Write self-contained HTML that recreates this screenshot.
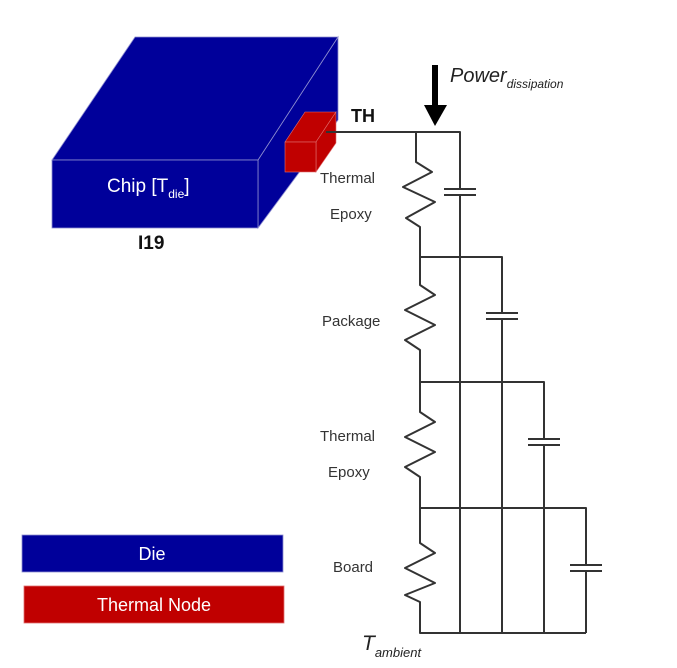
<!DOCTYPE html>
<html><head><meta charset="utf-8"><style>
html,body{margin:0;padding:0;background:#fff;width:677px;height:668px;overflow:hidden}
svg{display:block}
text{font-family:"Liberation Sans","DejaVu Sans",sans-serif}
</style></head><body>
<svg width="677" height="668" viewBox="0 0 677 668" xmlns="http://www.w3.org/2000/svg">
<!-- chip -->
<polygon points="258,160 338,37 338,120 258,228" fill="#00009a" stroke="#8f8fd0" stroke-width="0.8"/>
<polygon points="52,160 135,37 338,37 258,160" fill="#00009a" stroke="#8f8fd0" stroke-width="0.8"/>
<rect x="52" y="160" width="206" height="68" fill="#00009a" stroke="#8f8fd0" stroke-width="0.8"/>
<text x="107" y="192" font-size="19" fill="#fff">Chip [T<tspan font-size="12" dy="6">die</tspan><tspan dy="-6">]</tspan></text>
<text x="138" y="249" font-size="19" font-weight="bold" fill="#111">I19</text>
<!-- thermal node -->
<polygon points="285,142 305,112 336,112 316,142" fill="#c00000" stroke="#e07070" stroke-width="0.6"/>
<polygon points="316,142 336,112 336,143 316,172" fill="#c00000" stroke="#e07070" stroke-width="0.6"/>
<rect x="285" y="142" width="31" height="30" fill="#c00000" stroke="#e07070" stroke-width="0.6"/>
<text x="351" y="122" font-size="18" font-weight="bold" fill="#111">TH</text>
<!-- power arrow -->
<rect x="432" y="65" width="6" height="42" fill="#000"/>
<polygon points="424,105 447,105 435,126" fill="#000"/>
<text x="450" y="82" font-size="20" font-style="italic" fill="#222">Power<tspan font-size="12" dy="6">dissipation</tspan></text>
<!-- circuit -->
<g fill="none" stroke="#333" stroke-width="2" stroke-linejoin="round">
<polyline points="326,132 460,132 460,633"/>
<polyline points="416,132 416,162 432,172 403,187 435,202 406,218 420,227 420,285 435,295 405,310 435,325 405,340 420,350 420,412 435,422 405,437 435,452 405,467 420,477 420,543 435,553 405,568 435,583 405,595 420,602 420,633 586,633"/>
<polyline points="420,257 502,257 502,633"/>
<polyline points="420,382 544,382 544,633"/>
<polyline points="420,508 586,508 586,633"/>
</g>
<!-- capacitors -->
<g stroke="#333" stroke-width="2">
<rect x="444" y="189" width="32" height="6" fill="#fff" stroke="none"/>
<line x1="444" y1="189" x2="476" y2="189"/><line x1="444" y1="195" x2="476" y2="195"/>
<rect x="486" y="313" width="32" height="6" fill="#fff" stroke="none"/>
<line x1="486" y1="313" x2="518" y2="313"/><line x1="486" y1="319" x2="518" y2="319"/>
<rect x="528" y="439" width="32" height="6" fill="#fff" stroke="none"/>
<line x1="528" y1="439" x2="560" y2="439"/><line x1="528" y1="445" x2="560" y2="445"/>
<rect x="570" y="565" width="32" height="6" fill="#fff" stroke="none"/>
<line x1="570" y1="565" x2="602" y2="565"/><line x1="570" y1="571" x2="602" y2="571"/>
</g>
<g font-size="15" fill="#333">
<text x="320" y="183">Thermal</text>
<text x="330" y="219">Epoxy</text>
<text x="322" y="326">Package</text>
<text x="320" y="441">Thermal</text>
<text x="328" y="477">Epoxy</text>
<text x="333" y="572">Board</text>
</g>
<text x="362" y="650" font-size="21" font-style="italic" fill="#222">T<tspan font-size="13" dy="7">ambient</tspan></text>
<!-- legend -->
<rect x="22" y="535" width="261" height="37" fill="#00009a" stroke="#8f8fd0" stroke-width="0.8"/>
<text x="152" y="560" font-size="18" fill="#fff" text-anchor="middle">Die</text>
<rect x="24" y="586" width="260" height="37" fill="#c00000" stroke="#e07070" stroke-width="0.8"/>
<text x="154" y="611" font-size="18" fill="#fff" text-anchor="middle">Thermal Node</text>
</svg>
</body></html>
